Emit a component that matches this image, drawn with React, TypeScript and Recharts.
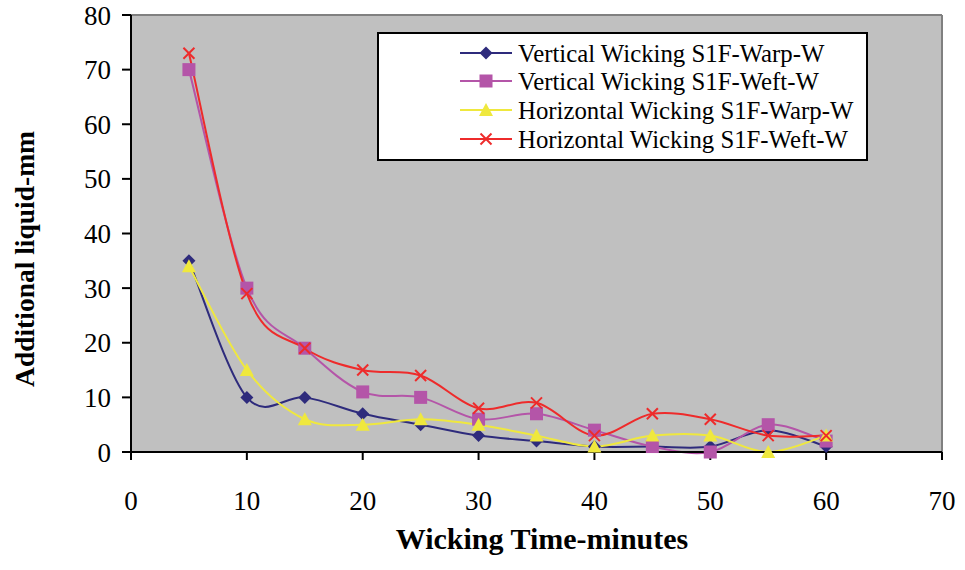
import React from "react";
import {
  LineChart,
  Line,
  XAxis,
  YAxis,
  CartesianGrid,
  ReferenceLine,
} from "recharts";

// Wicking time (minutes)
const minutes = [5, 10, 15, 20, 25, 30, 35, 40, 45, 50, 55, 60];

// Additional liquid height (mm) for each test
const verticalWarp = [35, 10, 10, 7, 5, 3, 2, 1, 1, 1, 4, 1];
const verticalWeft = [70, 30, 19, 11, 10, 6, 7, 4, 1, 0, 5, 2];
const horizontalWarp = [34, 15, 6, 5, 6, 5, 3, 1, 3, 3, 0, 3];
const horizontalWeft = [73, 29, 19, 15, 14, 8, 9, 3, 7, 6, 3, 3];

const xTicks = [0, 10, 20, 30, 40, 50, 60, 70];
const yTicks = [0, 10, 20, 30, 40, 50, 60, 70, 80];

const seriesNames = [
  "Vertical Wicking S1F-Warp-W",
  "Vertical Wicking S1F-Weft-W",
  "Horizontal Wicking S1F-Warp-W",
  "Horizontal Wicking S1F-Weft-W",
];

const data = minutes.map((t, i) => ({
  t,
  vWarp: verticalWarp[i],
  vWeft: verticalWeft[i],
  hWarp: horizontalWarp[i],
  hWeft: horizontalWeft[i],
}));

const SERIF = "'Liberation Serif', 'Times New Roman', serif";

type MarkerKind = "diamond" | "square" | "triangle" | "cross";

const series: { key: string; name: string; color: string; marker: MarkerKind }[] = [
  { key: "vWarp", name: seriesNames[0], color: "#2E2B7C", marker: "diamond" },
  { key: "vWeft", name: seriesNames[1], color: "#B455A8", marker: "square" },
  { key: "hWarp", name: seriesNames[2], color: "#EFE83E", marker: "triangle" },
  { key: "hWeft", name: seriesNames[3], color: "#EE2B2B", marker: "cross" },
];

// Smoothed line in the style of spreadsheet charts: cubic Bezier segments
// with control points taken from neighbouring points (Catmull-Rom, 1/6).
function smoothCurve(context: any) {
  let pts: [number, number][] = [];
  return {
    areaStart() {},
    areaEnd() {},
    lineStart() {
      pts = [];
    },
    point(x: number, y: number) {
      pts.push([+x, +y]);
    },
    lineEnd() {
      const n = pts.length;
      if (!n) return;
      context.moveTo(pts[0][0], pts[0][1]);
      for (let i = 0; i < n - 1; i++) {
        const p0 = pts[Math.max(i - 1, 0)];
        const p1 = pts[i];
        const p2 = pts[i + 1];
        const p3 = pts[Math.min(i + 2, n - 1)];
        const c1x = p1[0] + (p2[0] - p0[0]) / 6;
        const c1y = p1[1] + (p2[1] - p0[1]) / 6;
        const c2x = p2[0] - (p3[0] - p1[0]) / 6;
        const c2y = p2[1] - (p3[1] - p1[1]) / 6;
        context.bezierCurveTo(c1x, c1y, c2x, c2y, p2[0], p2[1]);
      }
    },
  };
}

function Marker({ kind, x, y, color }: { kind: MarkerKind; x: number; y: number; color: string }) {
  if (kind === "diamond") {
    const r = 6.5;
    return (
      <polygon
        points={`${x},${y - r} ${x + r},${y} ${x},${y + r} ${x - r},${y}`}
        fill={color}
      />
    );
  }
  if (kind === "square") {
    const r = 6.5;
    return <rect x={x - r} y={y - r} width={2 * r} height={2 * r} fill={color} />;
  }
  if (kind === "triangle") {
    const r = 7;
    return (
      <polygon
        points={`${x},${y - r} ${x + r},${y + r - 1} ${x - r},${y + r - 1}`}
        fill={color}
      />
    );
  }
  const r = 5.5;
  return (
    <g stroke={color} strokeWidth={2}>
      <line x1={x - r} y1={y - r} x2={x + r} y2={y + r} />
      <line x1={x - r} y1={y + r} x2={x + r} y2={y - r} />
    </g>
  );
}

function makeDot(kind: MarkerKind, color: string) {
  return (props: any) => {
    const { cx, cy, index } = props;
    if (cx == null || cy == null) return <g key={index} />;
    return (
      <g key={`${kind}-${index}`}>
        <Marker kind={kind} x={cx} y={cy} color={color} />
      </g>
    );
  };
}

function LegendBox() {
  const left = 378;
  const top = 33;
  const width = 489;
  const height = 127;
  const rowY = [53, 81, 110, 139];
  return (
    <g>
      <rect x={left} y={top} width={width} height={height} fill="#FFFFFF" stroke="#000" strokeWidth={2} />
      {series.map((s, i) => (
        <g key={s.key}>
          <line x1={460} x2={512} y1={rowY[i]} y2={rowY[i]} stroke={s.color} strokeWidth={2} />
          <Marker kind={s.marker} x={486} y={rowY[i]} color={s.color} />
          <text
            x={518}
            y={rowY[i]}
            dominantBaseline="central"
            fontFamily={SERIF}
            fontSize={24.8}
            fill="#000"
          >
            {s.name}
          </text>
        </g>
      ))}
    </g>
  );
}

export default function App() {
  return (
    <div style={{ position: "absolute", left: 0, top: 0, background: "#fff" }}>
      <LineChart
        width={965}
        height={570}
        data={data}
        margin={{ top: 15, right: 23, bottom: 0, left: 0 }}
      >
        <CartesianGrid horizontal={false} vertical={false} fill="#C0C0C0" stroke="none" />
        <ReferenceLine y={80} stroke="#808080" strokeWidth={2} />
        <ReferenceLine x={70} stroke="#808080" strokeWidth={2} />
        <XAxis
          dataKey="t"
          type="number"
          domain={[0, 70]}
          ticks={xTicks}
          height={118}
          tickSize={8}
          tickMargin={31}
          axisLine={{ stroke: "#000", strokeWidth: 2 }}
          tickLine={{ stroke: "#000", strokeWidth: 2 }}
          tick={{ fill: "#000", fontSize: 27, fontFamily: SERIF }}
          interval={0}
        />
        <YAxis
          type="number"
          domain={[0, 80]}
          ticks={yTicks}
          width={131}
          tickSize={9}
          tickMargin={11}
          axisLine={{ stroke: "#000", strokeWidth: 2 }}
          tickLine={{ stroke: "#000", strokeWidth: 2 }}
          tick={{ fill: "#000", fontSize: 27, fontFamily: SERIF }}
          interval={0}
        />
        {series.map((s) => (
          <Line
            key={s.key}
            dataKey={s.key}
            name={s.name}
            type={smoothCurve as any}
            stroke={s.color}
            strokeWidth={2}
            dot={makeDot(s.marker, s.color)}
            activeDot={false}
            isAnimationActive={false}
          />
        ))}
        <LegendBox />
        <text
          x={542}
          y={549}
          textAnchor="middle"
          fontFamily={SERIF}
          fontSize={30}
          fontWeight="bold"
          fill="#000"
        >
          Wicking Time-minutes
        </text>
        <text
          x={34}
          y={259}
          transform="rotate(-90 34 259)"
          textAnchor="middle"
          fontFamily={SERIF}
          fontSize={27.5}
          fontWeight="bold"
          fill="#000"
        >
          Additional liquid-mm
        </text>
      </LineChart>
    </div>
  );
}
